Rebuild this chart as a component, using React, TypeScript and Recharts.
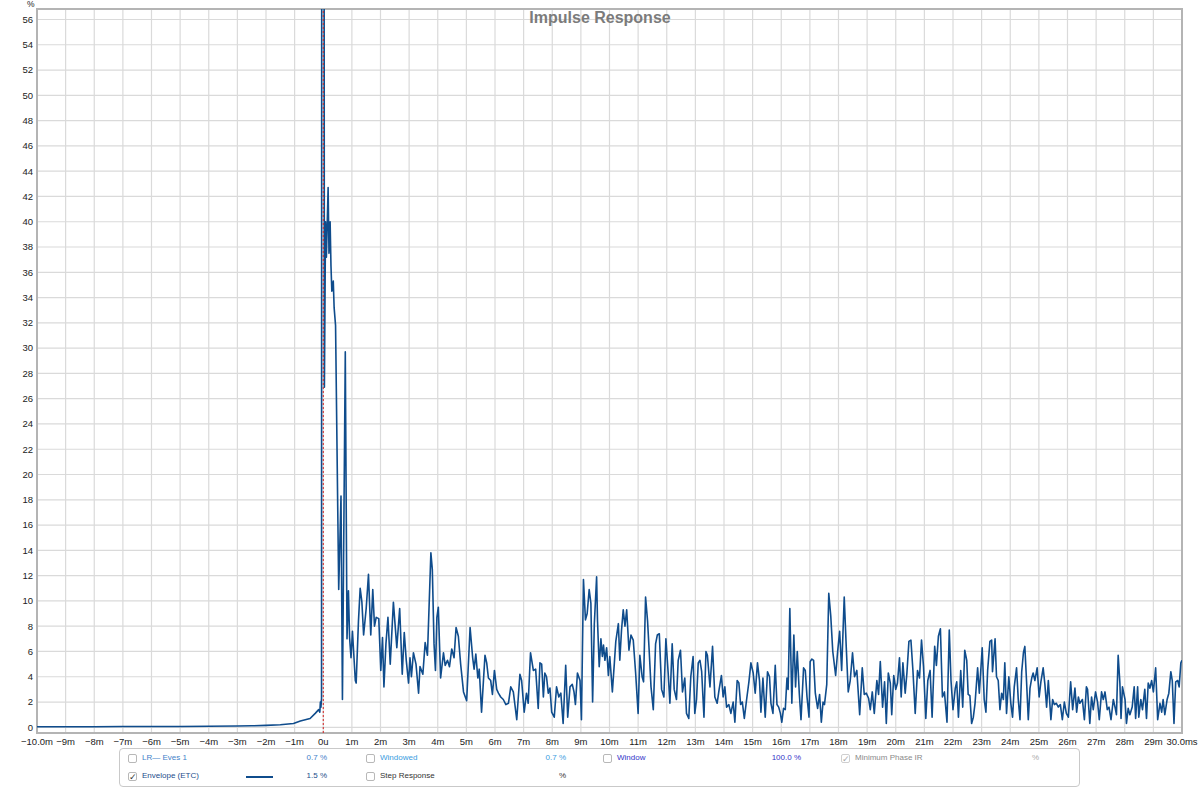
import React from 'react';
import { LineChart, Line, XAxis, YAxis, CartesianGrid, ReferenceLine, ReferenceArea } from 'recharts';

// ---- data (time in ms, level in %) ----
const preImpulse: [number, number][] = [
  [-10, 0.05], [-9, 0.05], [-8, 0.05], [-7, 0.06], [-6, 0.06], [-5, 0.07], [-4, 0.08], [-3, 0.1],
  [-2.5, 0.12], [-2, 0.15], [-1.5, 0.2], [-1.04, 0.3], [-0.8, 0.5], [-0.46, 0.7], [-0.28, 1.1],
  [-0.16, 1.4], [-0.12, 1.2], [-0.1, 2.0], [-0.08, 1.6], [-0.06, 2.3],
];
const directSound: [number, number][] = [
  [-0.05, 100], [0.02, 100], [0.04, 26.9], [0.08, 40.0], [0.11, 37.2], [0.17, 42.7], [0.2, 37.5],
  [0.24, 40.0], [0.27, 36.5], [0.3, 34.5], [0.35, 35.3], [0.38, 33.2], [0.43, 31.8], [0.54, 10.9],
  [0.62, 18.3], [0.67, 2.2], [0.77, 29.7], [0.83, 7.0],
];
const earlyReflections: [number, number][] = [
  [0.88, 10.8], [0.92, 7.1], [0.97, 5.5], [1.02, 7.6], [1.12, 3.7], [1.15, 3.5], [1.23, 8.4], [1.29, 11.0],
  [1.35, 9.9], [1.41, 7.3], [1.5, 9.4], [1.58, 12.1], [1.66, 7.3], [1.73, 10.9], [1.79, 8.0], [1.85, 8.7],
  [1.94, 8.6], [2.01, 4.5], [2.07, 7.1], [2.12, 3.2], [2.19, 6.6], [2.26, 8.7], [2.34, 5.0], [2.45, 9.9],
  [2.57, 6.3], [2.67, 9.4], [2.76, 4.2], [2.83, 7.5], [2.9, 5.3], [2.98, 3.5], [3.03, 5.5], [3.08, 4.0],
  [3.15, 5.9], [3.24, 5.0], [3.33, 2.7], [3.38, 4.8], [3.48, 4.2], [3.56, 6.7], [3.64, 5.7], [3.76, 13.8],
  [3.81, 12.5], [3.87, 6.6], [3.92, 4.5], [3.97, 8.7], [4.02, 9.5], [4.1, 3.9], [4.2, 5.9], [4.26, 4.9],
  [4.34, 5.3], [4.41, 4.8], [4.49, 6.2], [4.57, 5.5], [4.64, 7.9], [4.72, 7.2], [4.8, 5.0], [4.9, 2.8],
  [5.01, 2.1], [5.13, 7.9], [5.22, 5.5], [5.27, 4.6], [5.33, 5.8], [5.4, 3.9], [5.45, 4.6], [5.53, 1.2],
  [5.65, 5.7], [5.71, 5.1], [5.77, 3.9], [5.85, 3.7], [5.91, 2.6], [5.98, 4.5], [6.06, 3.0], [6.12, 2.7],
  [6.2, 2.4], [6.29, 2.2], [6.38, 1.8], [6.47, 1.9], [6.55, 3.2], [6.64, 2.8], [6.76, 0.6], [6.87, 4.2],
  [6.93, 3.7], [7.02, 1.2], [7.1, 2.7], [7.16, 1.9], [7.24, 5.9], [7.34, 4.5], [7.42, 4.6], [7.51, 1.5],
];
const midDecay: [number, number][] = [
  [7.57, 5.1], [7.63, 5.0], [7.69, 2.4], [7.74, 4.3], [7.8, 4.0], [7.86, 2.7], [7.92, 3.1], [7.98, 1.2],
  [8.07, 0.8], [8.15, 3.2], [8.23, 2.4], [8.3, 2.7], [8.38, 0.3], [8.47, 4.9], [8.54, 0.8], [8.62, 3.2],
  [8.7, 3.4], [8.76, 2.8], [8.81, 1.8], [8.88, 4.3], [8.97, 3.7], [9.02, 0.6], [9.09, 11.7], [9.16, 8.5],
  [9.22, 9.0], [9.29, 10.9], [9.35, 9.8], [9.41, 2.0], [9.47, 8.2], [9.55, 11.9], [9.58, 8.5], [9.64, 4.8],
  [9.7, 7.0], [9.75, 5.6], [9.79, 6.5], [9.84, 5.3], [9.9, 6.3], [9.96, 4.1], [10.01, 5.6], [10.1, 2.8],
  [10.17, 5.1], [10.22, 6.8], [10.31, 8.2], [10.36, 5.3], [10.42, 7.7], [10.48, 9.3], [10.54, 8.0], [10.6, 9.3],
  [10.68, 6.1], [10.75, 7.3], [10.83, 6.9], [10.91, 4.4], [11.0, 1.1], [11.06, 5.7], [11.14, 4.0], [11.19, 3.6],
  [11.26, 10.3], [11.33, 8.4], [11.39, 5.9], [11.45, 3.2], [11.53, 1.4], [11.61, 6.6], [11.67, 7.3], [11.74, 7.4],
  [11.82, 3.0], [11.9, 2.4], [11.97, 7.0], [12.05, 4.3], [12.11, 1.9], [12.19, 6.6], [12.26, 3.0], [12.34, 2.2],
  [12.4, 5.3], [12.48, 6.1], [12.55, 2.8], [12.63, 3.9], [12.69, 1.1], [12.77, 0.7], [12.84, 4.0], [12.92, 5.6],
  [12.98, 1.1], [13.04, 2.2], [13.1, 5.1], [13.16, 5.3], [13.22, 4.4], [13.3, 0.8], [13.37, 6.0], [13.42, 5.7],
  [13.51, 3.2], [13.6, 6.4], [13.68, 2.4], [13.76, 1.9], [13.83, 3.0], [13.91, 4.1], [13.97, 2.4], [14.03, 3.2],
  [14.09, 1.6], [14.17, 1.8], [14.24, 1.1], [14.32, 2.0], [14.38, 0.4], [14.46, 3.7], [14.52, 3.5], [14.58, 1.8],
  [14.64, 2.0], [14.71, 0.7], [14.79, 2.2], [14.87, 3.6], [14.94, 5.1], [15.02, 4.3],
];
const lateDecay: [number, number][] = [
  [15.09, 2.7], [15.17, 5.1], [15.24, 3.7], [15.29, 1.2], [15.36, 3.9], [15.44, 0.8], [15.52, 4.4], [15.59, 4.0],
  [15.64, 1.9], [15.71, 1.1], [15.79, 4.9], [15.85, 1.8], [15.91, 1.6], [15.97, 1.1], [16.02, 0.4], [16.08, 1.5],
  [16.14, 1.4], [16.2, 3.9], [16.24, 3.0], [16.3, 9.4], [16.37, 1.9], [16.44, 7.3], [16.5, 3.2], [16.56, 6.0],
  [16.63, 2.7], [16.69, 0.6], [16.78, 4.7], [16.84, 4.5], [16.9, 2.4], [16.97, 0.8], [17.01, 5.2], [17.07, 5.4],
  [17.13, 5.3], [17.19, 2.7], [17.27, 1.5], [17.34, 2.6], [17.4, 0.4], [17.46, 2.0], [17.51, 1.8], [17.59, 3.4],
  [17.66, 10.6], [17.73, 8.8], [17.8, 6.0], [17.9, 4.1], [17.97, 6.0], [18.04, 7.6], [18.11, 4.5], [18.2, 10.3],
  [18.27, 6.4], [18.34, 2.8], [18.41, 3.7], [18.49, 5.9], [18.56, 4.0], [18.64, 4.5], [18.74, 1.0], [18.83, 4.7],
  [18.9, 2.6], [18.97, 2.7], [19.05, 2.3], [19.11, 1.4], [19.18, 2.8], [19.25, 1.1], [19.34, 3.7], [19.4, 2.6],
  [19.46, 5.2], [19.54, 1.6], [19.61, 3.6], [19.67, 0.3], [19.74, 4.3], [19.81, 3.5], [19.86, 1.0], [19.93, 4.1],
  [20.0, 3.0], [20.06, 3.5], [20.13, 5.5], [20.19, 2.4], [20.25, 5.1], [20.33, 2.7], [20.39, 4.3], [20.46, 6.8],
  [20.53, 6.9], [20.6, 4.5], [20.68, 1.1], [20.76, 4.5], [20.83, 3.9], [20.9, 6.9], [20.97, 4.8], [21.05, 0.7],
  [21.12, 3.7], [21.2, 4.5], [21.27, 0.8], [21.36, 6.4], [21.42, 4.9], [21.49, 7.2], [21.56, 7.8], [21.63, 2.4],
  [21.7, 2.8], [21.79, 0.4], [21.87, 7.7], [21.93, 3.7], [22.0, 1.4], [22.08, 3.1], [22.13, 3.6], [22.19, 0.8],
  [22.27, 4.5], [22.34, 1.6], [22.41, 6.1], [22.48, 5.3],
];
const tailDecay: [number, number][] = [
  [22.53, 2.6], [22.59, 2.5], [22.65, 0.3], [22.71, 0.8], [22.77, 1.9], [22.86, 4.7], [22.92, 2.7], [23.02, 6.3],
  [23.09, 2.2], [23.15, 1.2], [23.21, 4.5], [23.29, 6.8], [23.35, 6.9], [23.38, 4.4], [23.47, 7.0], [23.52, 4.0],
  [23.58, 3.7], [23.64, 1.4], [23.7, 2.7], [23.76, 2.2], [23.81, 5.1], [23.87, 1.1], [23.95, 4.0], [24.02, 1.9],
  [24.08, 0.8], [24.14, 3.2], [24.22, 4.7], [24.28, 2.2], [24.34, 0.6], [24.4, 4.4], [24.46, 5.9], [24.51, 6.4],
  [24.57, 3.6], [24.63, 0.6], [24.69, 3.1], [24.75, 3.9], [24.8, 4.3], [24.86, 3.7], [24.94, 4.7], [25.01, 2.4],
  [25.07, 3.6], [25.15, 4.7], [25.21, 3.4], [25.27, 1.6], [25.33, 3.7], [25.42, 0.6], [25.48, 2.2], [25.54, 1.8],
  [25.61, 1.9], [25.68, 1.6], [25.75, 1.8], [25.82, 0.6], [25.89, 2.0], [25.96, 1.1], [26.03, 0.8], [26.11, 3.6],
  [26.18, 1.4], [26.26, 3.1], [26.32, 1.2], [26.38, 2.4], [26.43, 1.9], [26.52, 2.2], [26.59, 0.6], [26.66, 3.2],
  [26.7, 3.0], [26.78, 0.3], [26.84, 2.4], [26.9, 1.4], [26.98, 2.8], [27.05, 2.0], [27.11, 0.6], [27.19, 2.8],
  [27.25, 2.2], [27.31, 2.8], [27.39, 1.4], [27.45, 1.6], [27.52, 0.6], [27.6, 2.2], [27.66, 1.6], [27.71, 1.0],
  [27.77, 5.7], [27.83, 3.5], [27.87, 0.7], [27.92, 3.2], [28.01, 2.2], [28.06, 0.3], [28.12, 1.5], [28.18, 1.0],
  [28.26, 1.6], [28.33, 3.2], [28.38, 0.7], [28.45, 3.2], [28.49, 0.8], [28.56, 2.2], [28.62, 1.4], [28.7, 3.0],
  [28.76, 0.7], [28.82, 3.5], [28.88, 3.1], [28.94, 3.7], [29.0, 2.8], [29.08, 4.7], [29.15, 0.6], [29.23, 1.9],
  [29.29, 1.2], [29.34, 2.2], [29.4, 1.0], [29.48, 2.2], [29.54, 2.7], [29.61, 4.4], [29.66, 3.7], [29.72, 0.3],
  [29.78, 3.6], [29.85, 3.7], [29.9, 3.2], [29.96, 5.1], [30.0, 5.3],
];

const xTicks = [-10, -9, -8, -7, -6, -5, -4, -3, -2, -1, 0, 1, 2, 3, 4, 5, 6, 7, 8, 9, 10, 11, 12, 13, 14, 15, 16, 17, 18, 19, 20, 21, 22, 23, 24, 25, 26, 27, 28, 29, 30];
const yTicks = [0, 2, 4, 6, 8, 10, 12, 14, 16, 18, 20, 22, 24, 26, 28, 30, 32, 34, 36, 38, 40, 42, 44, 46, 48, 50, 52, 54, 56];
const xDomain: [number, number] = [-10, 30];
const yDomain: [number, number] = [-0.45, 56.83];

const chartTitle = 'Impulse Response';
const yUnit = '%';

// legend contents
const legendRow1Labels = ['LR— Eves 1', 'Windowed', 'Window', 'Minimum Phase IR'];
const legendRow1Values = ['0.7 %', '0.7 %', '100.0 %', '%'];
const legendRow1Checked = [false, false, false, true];
const legendRow2Labels = ['Envelope (ETC)', 'Step Response'];
const legendRow2Values = ['1.5 %', '%'];
const legendRow2Checked = [true, false];

const data = [...preImpulse, ...directSound, ...earlyReflections, ...midDecay, ...lateDecay, ...tailDecay].map(
  ([t, v]) => ({ t, v })
);

const fmtX = (n: number) => {
  if (n === -10) return '\u221210.0m';
  if (n === 30) return '30.0ms';
  if (n === 0) return '0u';
  return n < 0 ? `\u2212${-n}m` : `${n}m`;
};

const FONT = '"Liberation Sans", Arial, sans-serif';
const LINE_COLOR = '#0f4c8c';

const Checkbox: React.FC<{ left: number; top: number; checked: boolean; gray?: boolean }> = ({ left, top, checked, gray }) => (
  <div
    style={{
      position: 'absolute', left, top, width: 9, height: 9, border: `1px solid ${gray ? '#cfcfcf' : '#b8b8b8'}`,
      borderRadius: 2, background: '#fff', boxSizing: 'border-box', fontSize: 9, lineHeight: '8px',
      color: gray ? '#aaa' : '#333', textAlign: 'center', fontFamily: FONT,
    }}
  >
    {checked ? '\u2713' : ''}
  </div>
);

export default function App() {
  const row1Cols = [
    { box: 128, label: 142, valueRight: 327, color: '#3f7fc9' },
    { box: 366, label: 380, valueRight: 566, color: '#3a9de0' },
    { box: 603, label: 617, valueRight: 801, color: '#3434c8' },
    { box: 841, label: 855, valueRight: 1039, color: '#8a8a8a' },
  ];
  const row2Cols = [
    { box: 128, label: 142, valueRight: 327, color: '#1c4d8a' },
    { box: 366, label: 380, valueRight: 566, color: '#333333' },
  ];
  const textStyle = (color: string): React.CSSProperties => ({
    position: 'absolute', fontFamily: FONT, fontSize: 8, color, whiteSpace: 'nowrap', lineHeight: '10px',
  });
  return (
    <div style={{ position: 'absolute', left: 0, top: 0, width: 1200, height: 788, background: '#fff', overflow: 'hidden' }}>
      <LineChart width={1200} height={788} data={data} margin={{ top: 9, right: 18, bottom: 35, left: 0 }}>
        <CartesianGrid stroke="#dadada" strokeWidth={1.2} />
        <XAxis
          type="number" dataKey="t" domain={xDomain} ticks={xTicks} interval={0} allowDataOverflow
          tickFormatter={fmtX} height={20} tickLine={false} tickSize={3} tickMargin={2}
          axisLine={false} tick={{ fill: '#222', fontSize: 9.5, fontFamily: FONT }}
        />
        <YAxis
          type="number" domain={yDomain} ticks={yTicks} interval={0} allowDataOverflow width={37}
          tickLine={false} tickSize={2} tickMargin={2} axisLine={false}
          tick={{ fill: '#222', fontSize: 9.5, fontFamily: FONT }}
        />
        <Line
          type="linear" dataKey="v" stroke={LINE_COLOR} strokeWidth={1.6} dot={false}
          isAnimationActive={false} strokeLinejoin="round"
        />
        <ReferenceLine x={0} stroke="#d21f1f" strokeWidth={1} strokeDasharray="2 2" ifOverflow="extendDomain" />
        <ReferenceArea
          x1={xDomain[0]} x2={xDomain[1]} y1={yDomain[0]} y2={yDomain[1]}
          fill="none" fillOpacity={0} stroke="#b4b4b4" strokeWidth={2} ifOverflow="visible"
        />
      </LineChart>

      <div
        style={{
          position: 'absolute', left: 0, width: 1200, top: 8, textAlign: 'center', fontFamily: FONT,
          fontWeight: 'bold', fontSize: 16, color: '#7b7b7b', lineHeight: '20px',
        }}
      >
        {chartTitle}
      </div>
      <div style={{ position: 'absolute', left: 27, top: 0, fontFamily: FONT, fontSize: 8.5, color: '#222', lineHeight: '9px' }}>{yUnit}</div>

      <div
        style={{
          position: 'absolute', left: 119, top: 748, width: 961, height: 39, border: '1px solid #c9c9c9',
          borderRadius: 4, boxSizing: 'border-box', background: '#fff',
        }}
      />
      {legendRow1Labels.map((label, i) => {
        const c = row1Cols[i];
        return (
          <React.Fragment key={'r1' + i}>
            <Checkbox left={c.box} top={754} checked={legendRow1Checked[i]} gray={i === 3} />
            <div style={{ ...textStyle(c.color), left: c.label, top: 753 }}>{label}</div>
            <div style={{ ...textStyle(i === 3 ? '#aaaaaa' : c.color), left: c.valueRight - 60, width: 60, textAlign: 'right', top: 753 }}>
              {legendRow1Values[i]}
            </div>
          </React.Fragment>
        );
      })}
      {legendRow2Labels.map((label, i) => {
        const c = row2Cols[i];
        return (
          <React.Fragment key={'r2' + i}>
            <Checkbox left={c.box} top={772} checked={legendRow2Checked[i]} />
            <div style={{ ...textStyle(c.color), left: c.label, top: 771 }}>{label}</div>
            <div style={{ ...textStyle(c.color), left: c.valueRight - 60, width: 60, textAlign: 'right', top: 771 }}>
              {legendRow2Values[i]}
            </div>
          </React.Fragment>
        );
      })}
      <div style={{ position: 'absolute', left: 246, top: 776, width: 27, height: 2, background: LINE_COLOR }} />
    </div>
  );
}
